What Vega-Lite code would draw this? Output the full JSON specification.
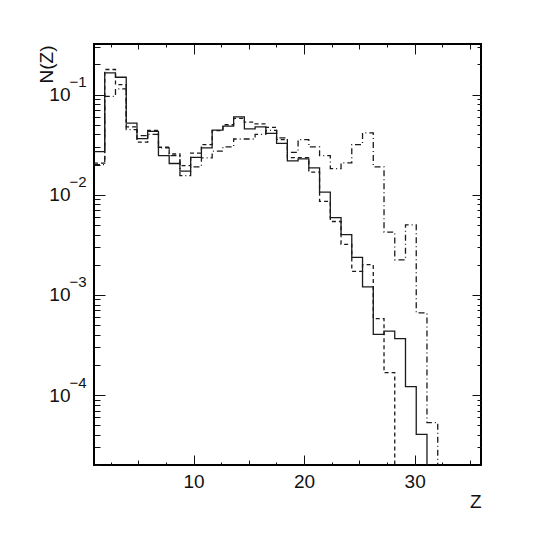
{
  "$schema": "https://vega.github.io/schema/vega-lite/v6.json",
  "autosize": "none",
  "width": 387,
  "height": 421,
  "padding": {"left": 94, "top": 44, "right": 64, "bottom": 80},
  "background": "white",
  "config": {
    "view": {"stroke": "black", "strokeWidth": 2},
    "axis": {"labelFont": "Liberation Sans", "titleFont": "Liberation Sans", "labelColor": "#111", "titleColor": "#111", "tickColor": "#111", "domain": false, "grid": false, "labelOverlap": false, "labelFlush": false, "labelBound": false}
  },
  "data": {"values": [
    {"s":"a","e":1,"v":0.027},{"s":"a","e":1.971,"v":0.165},{"s":"a","e":2.943,"v":0.149},{"s":"a","e":3.914,"v":0.052},{"s":"a","e":4.886,"v":0.0363},{"s":"a","e":5.857,"v":0.043},{"s":"a","e":6.829,"v":0.0246},{"s":"a","e":7.8,"v":0.0205},{"s":"a","e":8.771,"v":0.0172},{"s":"a","e":9.743,"v":0.0236},{"s":"a","e":10.714,"v":0.0294},{"s":"a","e":11.686,"v":0.0442},{"s":"a","e":12.657,"v":0.0485},{"s":"a","e":13.629,"v":0.0598},{"s":"a","e":14.6,"v":0.0454},{"s":"a","e":15.571,"v":0.0476},{"s":"a","e":16.543,"v":0.041},{"s":"a","e":17.514,"v":0.0325},{"s":"a","e":18.486,"v":0.0218},{"s":"a","e":19.457,"v":0.0228},{"s":"a","e":20.429,"v":0.0185},{"s":"a","e":21.4,"v":0.0106},{"s":"a","e":22.371,"v":0.0059},{"s":"a","e":23.343,"v":0.004},{"s":"a","e":24.314,"v":0.00237},{"s":"a","e":25.286,"v":0.0012},{"s":"a","e":26.257,"v":0.000403},{"s":"a","e":27.229,"v":0.000435},{"s":"a","e":28.2,"v":0.000365},{"s":"a","e":29.171,"v":0.000121},{"s":"a","e":30.143,"v":0.0000405},{"s":"a","e":31.114,"v":0.000001},
    {"s":"b","e":1,"v":0.0207},{"s":"b","e":1.971,"v":0.178},{"s":"b","e":2.943,"v":0.126},{"s":"b","e":3.914,"v":0.0476},{"s":"b","e":4.886,"v":0.0335},{"s":"b","e":5.857,"v":0.044},{"s":"b","e":6.829,"v":0.0298},{"s":"b","e":7.8,"v":0.0255},{"s":"b","e":8.771,"v":0.0195},{"s":"b","e":9.743,"v":0.026},{"s":"b","e":10.714,"v":0.0317},{"s":"b","e":11.686,"v":0.0437},{"s":"b","e":12.657,"v":0.05},{"s":"b","e":13.629,"v":0.058},{"s":"b","e":14.6,"v":0.053},{"s":"b","e":15.571,"v":0.051},{"s":"b","e":16.543,"v":0.047},{"s":"b","e":17.514,"v":0.0355},{"s":"b","e":18.486,"v":0.0235},{"s":"b","e":19.457,"v":0.0235},{"s":"b","e":20.429,"v":0.0168},{"s":"b","e":21.4,"v":0.0086},{"s":"b","e":22.371,"v":0.0054},{"s":"b","e":23.343,"v":0.0032},{"s":"b","e":24.314,"v":0.00172},{"s":"b","e":25.286,"v":0.002},{"s":"b","e":26.257,"v":0.00058},{"s":"b","e":27.229,"v":0.000167},{"s":"b","e":28.2,"v":0.000001},
    {"s":"c","e":1,"v":0.02},{"s":"c","e":1.971,"v":0.096},{"s":"c","e":2.943,"v":0.114},{"s":"c","e":3.914,"v":0.0447},{"s":"c","e":4.886,"v":0.039},{"s":"c","e":5.857,"v":0.04},{"s":"c","e":6.829,"v":0.0294},{"s":"c","e":7.8,"v":0.0246},{"s":"c","e":8.771,"v":0.0155},{"s":"c","e":9.743,"v":0.019},{"s":"c","e":10.714,"v":0.0233},{"s":"c","e":11.686,"v":0.0272},{"s":"c","e":12.657,"v":0.03},{"s":"c","e":13.629,"v":0.036},{"s":"c","e":14.6,"v":0.036},{"s":"c","e":15.571,"v":0.04},{"s":"c","e":16.543,"v":0.044},{"s":"c","e":17.514,"v":0.037},{"s":"c","e":18.486,"v":0.0265},{"s":"c","e":19.457,"v":0.0355},{"s":"c","e":20.429,"v":0.03},{"s":"c","e":21.4,"v":0.0246},{"s":"c","e":22.371,"v":0.0182},{"s":"c","e":23.343,"v":0.0208},{"s":"c","e":24.314,"v":0.0317},{"s":"c","e":25.286,"v":0.0414},{"s":"c","e":26.257,"v":0.019},{"s":"c","e":27.229,"v":0.00423},{"s":"c","e":28.2,"v":0.00224},{"s":"c","e":29.171,"v":0.005},{"s":"c","e":30.143,"v":0.00066},{"s":"c","e":31.114,"v":0.000053},{"s":"c","e":32.086,"v":0.000001}
  ]},
  "resolve": {"axis": {"x": "independent", "y": "independent"}},
  "layer": [
    {
      "mark": {"type": "line", "interpolate": "step-after", "clip": true, "color": "#1a1a1a", "strokeWidth": 1.3},
      "encoding": {
        "x": {"field": "e", "type": "quantitative",
          "scale": {"domain": [1, 36], "nice": false, "zero": false},
          "axis": {"orient": "bottom",
            "values": [2.5,5,7.5,10,12.5,15,17.5,20,22.5,25,27.5,30,32.5,35],
            "labelExpr": "datum.value % 10 === 0 ? '' + datum.value : ''",
            "tickSize": {"condition": [{"test": "datum.value % 10 === 0", "value": -10}, {"test": "datum.value % 5 === 0", "value": -5}], "value": -3},
            "labelPadding": 17, "labelFontSize": 19,
            "title": "Z", "titleFontSize": 19, "titleFontWeight": "normal", "titleAnchor": "end", "titleAlign": "right", "titleBaseline": "top", "titleX": 387, "titleY": 27}},
        "y": {"field": "v", "type": "quantitative",
          "scale": {"type": "log", "domain": [0.00002, 0.32], "nice": false},
          "axis": {"orient": "left",
            "values": [0.00002,0.00003,0.00004,0.00005,0.00006,0.00007,0.00008,0.00009,0.0001,0.0002,0.0003,0.0004,0.0005,0.0006,0.0007,0.0008,0.0009,0.001,0.002,0.003,0.004,0.005,0.006,0.007,0.008,0.009,0.01,0.02,0.03,0.04,0.05,0.06,0.07,0.08,0.09,0.1,0.2,0.3],
            "labelExpr": "abs(log(datum.value)/LN10 - round(log(datum.value)/LN10)) < 0.001 ? '10' : ''",
            "tickSize": {"condition": {"test": "abs(log(datum.value)/LN10 - round(log(datum.value)/LN10)) < 0.001", "value": -11}, "value": -6},
            "labelPadding": 35, "labelFontSize": 19, "labelBaseline": "middle", "labelAlign": "right",
            "title": "N(Z)", "titleFontSize": 19, "titleFontWeight": "normal", "titleAngle": 270, "titleAlign": "right", "titleBaseline": "middle", "titleX": -48, "titleY": 1}},
        "strokeDash": {"field": "s", "type": "nominal", "legend": null,
          "scale": {"domain": ["a", "b", "c"], "range": [[1, 0], [4, 3], [6, 3, 1, 3]]}}
      }
    },
    {
      "mark": {"type": "point", "opacity": 0, "clip": true},
      "encoding": {
        "x": {"field": "e", "type": "quantitative",
          "axis": {"orient": "top", "labels": false, "title": null,
            "values": [2.5,5,7.5,10,12.5,15,17.5,20,22.5,25,27.5,30,32.5,35],
            "tickSize": {"condition": [{"test": "datum.value % 10 === 0", "value": -10}, {"test": "datum.value % 5 === 0", "value": -5}], "value": -3}}},
        "y": {"field": "v", "type": "quantitative",
          "axis": {"orient": "right", "labels": false, "title": null,
            "values": [0.00002,0.00003,0.00004,0.00005,0.00006,0.00007,0.00008,0.00009,0.0001,0.0002,0.0003,0.0004,0.0005,0.0006,0.0007,0.0008,0.0009,0.001,0.002,0.003,0.004,0.005,0.006,0.007,0.008,0.009,0.01,0.02,0.03,0.04,0.05,0.06,0.07,0.08,0.09,0.1,0.2,0.3],
            "tickSize": {"condition": {"test": "abs(log(datum.value)/LN10 - round(log(datum.value)/LN10)) < 0.001", "value": -9}, "value": -4}}}
      }
    },
    {
      "mark": {"type": "point", "opacity": 0, "clip": true},
      "encoding": {
        "y": {"field": "v", "type": "quantitative",
          "axis": {"orient": "left", "ticks": false, "title": null,
            "values": [0.1, 0.01, 0.001, 0.0001],
            "labelExpr": "'−' + round(-log(datum.value)/LN10)",
            "labelFontSize": 15, "labelAlign": "left", "labelBaseline": "middle", "labelPadding": 25, "labelOffset": -13}}
      }
    }
  ]
}
